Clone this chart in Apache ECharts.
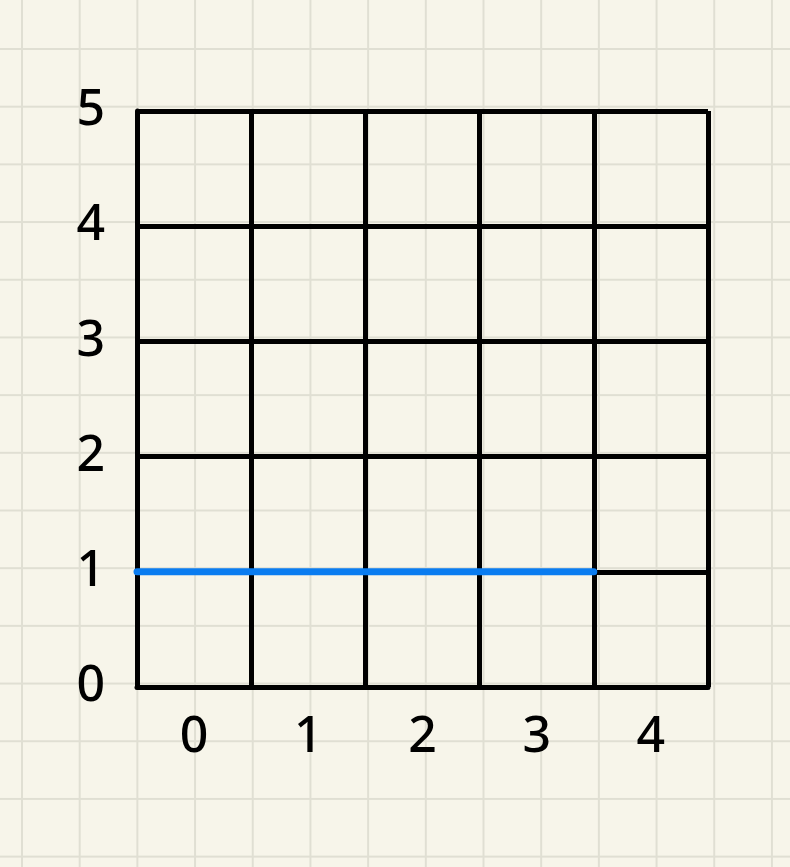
<!DOCTYPE html>
<html>
<head>
<meta charset="utf-8">
<script src="https://cdn.jsdelivr.net/npm/echarts@6/dist/echarts.min.js"></script>
<style>
  html, body { margin: 0; padding: 0; }
  body {
    width: 790px; height: 867px;
    background-color: #f7f5ea;
    background-image:
      linear-gradient(to right, #e0dfd3 2px, transparent 2px),
      linear-gradient(to bottom, #e0dfd3 2px, transparent 2px);
    background-size: 57.7px 57.7px;
    background-position: 21px 48px;
  }
  #chart { width: 790px; height: 867px; }
</style>
</head>
<body>
<div id="chart"></div>
<script>
const categories = ['0', '1', '2', '3', '4'];
const blueValues = [1, 1, 1, 1, null];
const yMin = 0;
const yMax = 5;
const yStep = 1;

const lineData = [];
blueValues.forEach(function (v, i) {
  if (v !== null) { lineData.push([i, v]); lineData.push([i + 1, v]); }
});

const chart = echarts.init(document.getElementById('chart'));
const ink = '#000000';
const labelFont = { color: ink, fontSize: 50, fontFamily: 'Noto Sans', fontWeight: 500 };

chart.setOption({
  backgroundColor: 'transparent',
  animation: false,
  grid: { left: 137, right: 82, top: 111, bottom: 180 },
  xAxis: [
    {
      type: 'category',
      data: categories,
      boundaryGap: true,
      axisLine: { show: true, lineStyle: { color: ink, width: 5 } },
      axisTick: { show: false },
      splitLine: { show: true, lineStyle: { color: ink, width: 5 } },
      axisLabel: Object.assign({ margin: 26 }, labelFont)
    },
    {
      type: 'value',
      min: 0,
      max: categories.length,
      show: false
    }
  ],
  yAxis: {
    type: 'value',
    min: yMin,
    max: yMax,
    interval: yStep,
    axisLine: { show: true, lineStyle: { color: ink, width: 5 } },
    axisTick: { show: false },
    splitLine: { show: true, lineStyle: { color: ink, width: 5 } },
    axisLabel: Object.assign({ margin: 32 }, labelFont)
  },
  series: [
    {
      type: 'line',
      xAxisIndex: 1,
      data: lineData,
      symbol: 'none',
      lineStyle: { color: '#0a7cf0', width: 7, cap: 'round' },
      z: 5
    }
  ]
});
</script>
</body>
</html>
